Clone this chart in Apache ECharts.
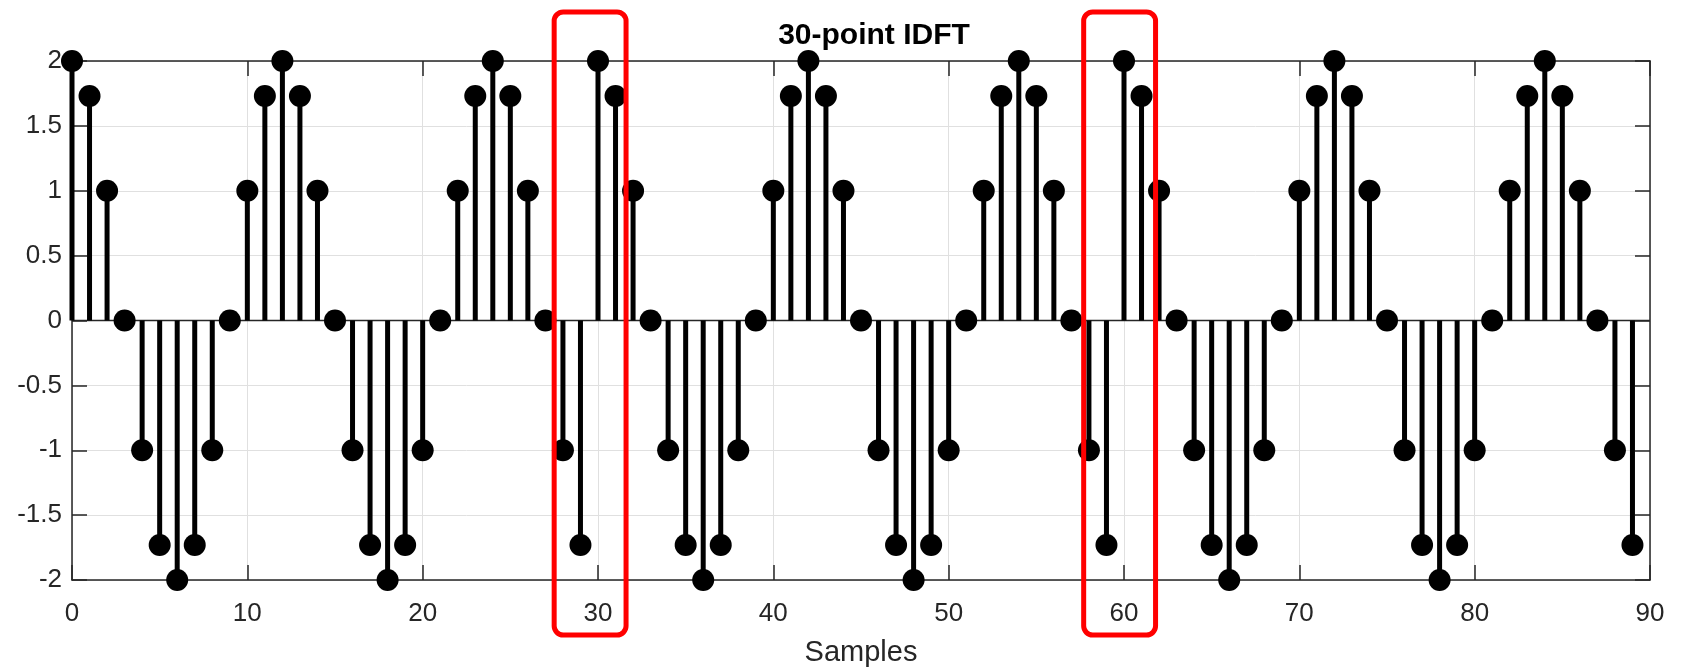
<!DOCTYPE html>
<html>
<head>
<meta charset="utf-8">
<script src="https://cdn.jsdelivr.net/npm/echarts@6/dist/echarts.min.js"></script>
<style>
html,body{margin:0;padding:0;background:#fff;}
#chart{width:1685px;height:667px;}
</style>
</head>
<body>
<div id="chart"></div>
<script>
const samples = [
  0,1,2,3,4,5,6,7,8,9,10,11,12,13,14,15,16,17,18,19,20,21,22,23,24,25,26,27,28,29,
  30,31,32,33,34,35,36,37,38,39,40,41,42,43,44,45,46,47,48,49,50,51,52,53,54,55,56,57,58,59,
  60,61,62,63,64,65,66,67,68,69,70,71,72,73,74,75,76,77,78,79,80,81,82,83,84,85,86,87,88,89
];
const values = [
  2, 1.73, 1, 0, -1, -1.73, -2, -1.73, -1, 0, 1, 1.73, 2, 1.73, 1, 0, -1, -1.73, -2, -1.73, -1, 0, 1, 1.73, 2, 1.73, 1, 0, -1, -1.73,
  2, 1.73, 1, 0, -1, -1.73, -2, -1.73, -1, 0, 1, 1.73, 2, 1.73, 1, 0, -1, -1.73, -2, -1.73, -1, 0, 1, 1.73, 2, 1.73, 1, 0, -1, -1.73,
  2, 1.73, 1, 0, -1, -1.73, -2, -1.73, -1, 0, 1, 1.73, 2, 1.73, 1, 0, -1, -1.73, -2, -1.73, -1, 0, 1, 1.73, 2, 1.73, 1, 0, -1, -1.73
];
const xTickLabels = ['0','10','20','30','40','50','60','70','80','90'];
const yTickLabels = ['-2','-1.5','-1','-0.5','0','0.5','1','1.5','2'];
const highlightRanges = [[27.5, 31.6], [57.7, 61.8]];
const titleText = '30-point IDFT';
const xLabelText = 'Samples';

const axisColor = '#262626';
const gridColor = '#e0e0e0';
const font = '"Liberation Sans", Arial, Helvetica, sans-serif';

const pts = samples.map((s, i) => [s, values[i]]);

const chart = echarts.init(document.getElementById('chart'));

const xLab = v => { const s = String(v); return xTickLabels.indexOf(s) >= 0 ? s : ''; };
const yLab = v => { const s = String(v); return yTickLabels.indexOf(s) >= 0 ? s : ''; };

const option = {
  animation: false,
  backgroundColor: '#fff',
  title: {
    text: titleText,
    left: 869, top: 16, textAlign: 'center',
    textStyle: {fontFamily: font, fontSize: 30, fontWeight: 'bold', color: '#000'}
  },
  grid: {left: 72, right: 35, top: 61, bottom: 87, containLabel: false, outerBoundsMode: 'none'},
  xAxis: [{
    type: 'value', min: 0, max: 90, interval: 10, position: 'bottom',
    name: xLabelText, nameLocation: 'middle', nameGap: 58,
    nameTextStyle: {fontFamily: font, fontSize: 29, color: axisColor},
    axisLine: {show: true, onZero: false, lineStyle: {color: axisColor, width: 1.5}},
    axisTick: {show: true, inside: true, length: 15, lineStyle: {color: axisColor, width: 1.5}},
    axisLabel: {fontFamily: font, fontSize: 26, color: axisColor, margin: 21, formatter: xLab},
    splitLine: {show: true, lineStyle: {color: gridColor, width: 1}}
  }, {
    type: 'value', min: 0, max: 90, interval: 10, position: 'top',
    axisLine: {show: true, onZero: false, lineStyle: {color: axisColor, width: 1.5}},
    axisTick: {show: true, inside: true, length: 15, lineStyle: {color: axisColor, width: 1.5}},
    axisLabel: {show: false}, splitLine: {show: false}
  }],
  yAxis: [{
    type: 'value', min: -2, max: 2, interval: 0.5, position: 'left',
    axisLine: {show: true, onZero: false, lineStyle: {color: axisColor, width: 1.5}},
    axisTick: {show: true, inside: true, length: 15, lineStyle: {color: axisColor, width: 1.5}},
    axisLabel: {fontFamily: font, fontSize: 26, color: axisColor, margin: 10, formatter: yLab},
    splitLine: {show: true, lineStyle: {color: gridColor, width: 1}}
  }, {
    type: 'value', min: -2, max: 2, interval: 0.5, position: 'right',
    axisLine: {show: true, onZero: false, lineStyle: {color: axisColor, width: 1.5}},
    axisTick: {show: true, inside: true, length: 15, lineStyle: {color: axisColor, width: 1.5}},
    axisLabel: {show: false}, splitLine: {show: false}
  }],
  series: [{
    type: 'custom',
    name: 'baseline',
    xAxisIndex: 0, yAxisIndex: 0,
    data: [[0, 0]],
    renderItem: function (params, api) {
      const a = api.coord([0, 0]);
      const b = api.coord([90, 0]);
      return {type: 'line', shape: {x1: a[0], y1: a[1], x2: b[0], y2: b[1]},
        style: {stroke: axisColor, lineWidth: 1.5}};
    },
    z: 3, silent: true
  }, {
    type: 'custom',
    name: 'stems',
    xAxisIndex: 0, yAxisIndex: 0,
    data: pts,
    clip: false,
    renderItem: function (params, api) {
      const x = api.value(0), y = api.value(1);
      const p0 = api.coord([x, 0]);
      const p1 = api.coord([x, y]);
      return {type: 'line', shape: {x1: p0[0], y1: p0[1], x2: p1[0], y2: p1[1]},
        style: {stroke: '#000', lineWidth: 5}};
    },
    z: 4, silent: true
  }, {
    type: 'scatter',
    name: 'markers',
    xAxisIndex: 0, yAxisIndex: 0,
    data: pts,
    clip: false,
    symbol: 'circle', symbolSize: 22,
    itemStyle: {color: '#000', opacity: 1},
    z: 5, silent: true
  }]
};
chart.setOption(option);

function drawBoxes() {
  const els = highlightRanges.map(r => {
    const x0 = chart.convertToPixel({xAxisIndex: 0}, r[0]);
    const x1 = chart.convertToPixel({xAxisIndex: 0}, r[1]);
    return {
      type: 'rect', z: 100,
      shape: {x: x0, y: 12, width: x1 - x0, height: 623, r: 9},
      style: {fill: 'none', stroke: '#ff0000', lineWidth: 5}
    };
  });
  chart.setOption({graphic: {elements: els}});
}
drawBoxes();
</script>
</body>
</html>
